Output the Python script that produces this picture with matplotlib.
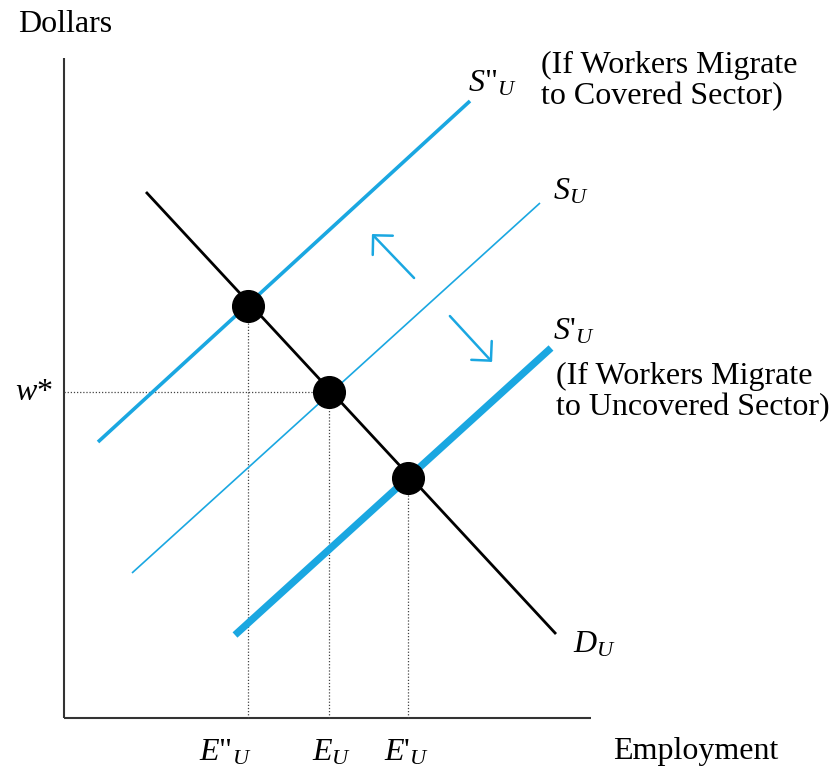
import numpy as np
import matplotlib.pyplot as plt

plt.rcParams['font.family'] = 'Liberation Serif'
plt.rcParams['mathtext.fontset'] = 'custom'
plt.rcParams['mathtext.rm'] = 'Liberation Serif'
plt.rcParams['mathtext.it'] = 'Liberation Serif:italic'

BLUE = '#1aa7e1'

# curve end points (employment, dollars)
demand_x = [8.2, 49.2]
demand_y = [52.6, 8.4]
supply_x = [6.8, 47.6]          # S_U
supply_y = [14.5, 51.5]
supply_cov_x = [3.4, 40.6]      # S''_U, workers move to covered sector
supply_cov_y = [27.6, 61.7]
supply_unc_x = [17.1, 48.7]     # S'_U, workers move to uncovered sector
supply_unc_y = [8.3, 37.0]

# equilibria: E''_U, E_U, E'_U
eq_x = [18.4, 26.5, 34.4]
eq_y = [41.2, 32.6, 24.0]
eq_labels = [r'$E\text{"}_U$', r'$E_U$', r"$E\text{'}_U$"]
wstar = 32.6

fig = plt.figure(figsize=(8.32, 7.7), dpi=100)
ax = fig.add_axes([0, 0, 1, 1])
ax.set_xlim(-6.4, 76.8)
ax.set_ylim(-5.2, 71.8)
ax.axis('off')

# axes
ax.plot([0, 0], [0, 66.0], color='#333333', lw=1.5, solid_capstyle='butt')
ax.plot([0, 52.7], [0, 0], color='#333333', lw=1.5, solid_capstyle='butt')

# guide lines
ax.plot([0, eq_x[1]], [wstar, wstar], color='#444444', lw=0.9, ls=(0, (1, 1.5)))
for x, y in zip(eq_x, eq_y):
    ax.plot([x, x], [0, y], color='#444444', lw=0.9, ls=(0, (1, 1.5)))

ax.plot(supply_cov_x, supply_cov_y, color=BLUE, lw=2.6, solid_capstyle='butt')
ax.plot(supply_x, supply_y, color=BLUE, lw=1.2, solid_capstyle='butt')
ax.plot(supply_unc_x, supply_unc_y, color=BLUE, lw=5.2, solid_capstyle='butt')
ax.plot(demand_x, demand_y, color='black', lw=2.0, solid_capstyle='butt')
ax.scatter(eq_x, eq_y, s=520, color='black', zorder=5)

# shift arrows
arrow = dict(arrowstyle='->,head_length=1.0,head_width=1.0', color=BLUE, lw=1.8)
ax.annotate('', xy=(30.6, 48.6), xytext=(35.2, 43.8), arrowprops=arrow)
ax.annotate('', xy=(43.0, 35.4), xytext=(38.4, 40.4), arrowprops=arrow)

fs = 23
ax.text(-4.6, 69.4, 'Dollars', fontsize=fs, va='center', ha='left')
ax.text(71.4, -3.4, 'Employment', fontsize=fs, va='center', ha='right')
ax.text(-3.0, wstar, r'$w$*', fontsize=fs, va='center', ha='center')
for x, lab in zip([16.1, 26.8, 34.3], eq_labels):
    ax.text(x, -3.5, lab, fontsize=fs, va='center', ha='center')

ax.text(40.4, 63.4, r'$S\text{"}_U$', fontsize=fs, va='center', ha='left')
ax.text(48.9, 52.6, r'$S_U$', fontsize=fs, va='center', ha='left')
ax.text(48.9, 38.6, r"$S\text{'}_U$", fontsize=fs, va='center', ha='left')
ax.text(50.9, 7.3, r'$D_U$', fontsize=fs, va='center', ha='left')

ax.text(47.7, 66.7, '(If Workers Migrate\nto Covered Sector)', fontsize=fs,
        va='top', ha='left', linespacing=1.1)
ax.text(49.2, 35.6, '(If Workers Migrate\nto Uncovered Sector)', fontsize=fs,
        va='top', ha='left', linespacing=1.1)

fig.savefig('out.png', dpi=100)
